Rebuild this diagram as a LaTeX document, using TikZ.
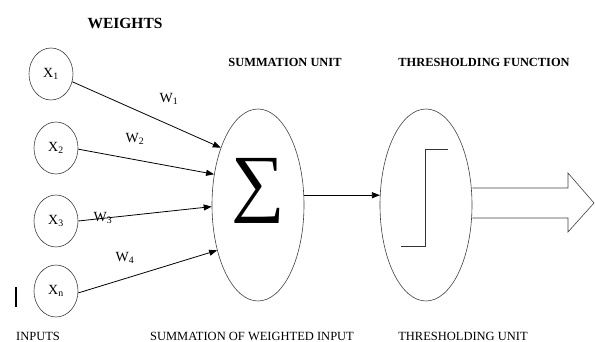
\documentclass[tikz,border=0pt]{standalone}
\usepackage{fontspec}
\setmainfont{Liberation Serif}
\usetikzlibrary{shapes.geometric,arrows.meta}

\tikzset{
  inp/.style={draw=black!75,ellipse,inner sep=0pt,minimum width=44pt,minimum height=52pt,line width=0.6pt,font=\fontsize{14}{16}\selectfont},
  unit/.style={draw=black!75,ellipse,inner sep=0pt,minimum width=92pt,minimum height=192pt,line width=0.6pt},
  lbl/.style={inner sep=0pt,font=\fontsize{12.5}{14}\selectfont},
  wlbl/.style={inner sep=0pt,font=\fontsize{14}{16}\selectfont},
  blbl/.style={inner sep=0pt,font=\fontsize{12.4}{14}\selectfont\bfseries},
  wire/.style={line width=0.8pt,-{Triangle[length=8pt,width=6pt]}}
}

\begin{document}
\begin{tikzpicture}[x=1pt,y=-1pt]
\useasboundingbox (0,0) rectangle (595,342);

% inputs
\foreach \i/\x/\y in {1/51/74,2/56/148,3/56/221,n/56/291}
{
  \node[inp] (x\i) at (\x,\y) {X\textsubscript{\i}};
}

% summation and thresholding units
\node[unit] (sum) at (258,205) {};
\node[inner sep=0pt,font=\fontsize{75}{75}\selectfont] (sigma) at (258,191) {∑};
\node[unit] (thr) at (426,205) {};

% weighted connections
\foreach \i/\a/\b in {1/-20/123,2/-3/145,3/0/182,n/-5/228}
{
  \draw[wire] (x\i.\a) -- (sum.\b);
}
\node[wlbl] (w1) at (169,99) {W\textsubscript{1}};
\node[wlbl] (w2) at (135,139) {W\textsubscript{2}};
\node[wlbl] (w3) at (103,218) {W\textsubscript{3}};
\node[wlbl] (w4) at (125,258) {W\textsubscript{4}};

\draw[wire] (sum.12) -- (thr.168);

% step function
\draw[line width=0.7pt,black!80] (401,246) -- (425,246) -- (425,149) -- (448,149);

% output arrow
\coordinate (tip) at (594,203);
\draw[line width=0.6pt,black!75] ([yshift=17pt]thr.east) -- (568,188) -- (568,173) -- (tip)
  -- (568,232) -- (568,218) -- ([yshift=-13pt]thr.east);

% stray mark
\draw[line width=1.1pt] (16,287) -- (16,307);

% titles
\node[inner sep=0pt,font=\fontsize{15.5}{17}\selectfont\bfseries] (weights) at (125,23) {WEIGHTS};
\node[blbl] (sumtitle) at (285,62) {SUMMATION UNIT};
\node[blbl] (thrtitle) at (484,62) {THRESHOLDING FUNCTION};
\node[lbl] (inputs) at (38,336) {INPUTS};
\node[lbl] (sumlbl) at (252,336) {SUMMATION OF WEIGHTED INPUT};
\node[lbl] (thrlbl) at (463,336) {THRESHOLDING UNIT};

\end{tikzpicture}
\end{document}
